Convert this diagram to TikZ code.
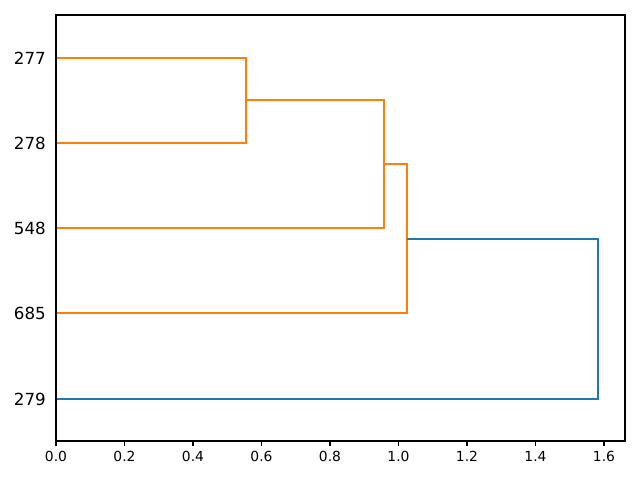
\documentclass[tikz,border=0pt]{standalone}
\usepackage{fontspec}
\setmainfont{DejaVu Sans}
\definecolor{mplorange}{HTML}{FF7F0E}
\definecolor{mplblue}{HTML}{1F77B4}
\begin{document}
\begin{tikzpicture}[x=0.75pt,y=-0.75pt,
  link/.style={line width=1.5pt},
  spine/.style={line width=0.83pt, line cap=rect},
  ylab/.style={anchor=east, inner sep=0pt, font=\fontsize{12.5}{14}\selectfont},
  xlab/.style={anchor=north, inner sep=0pt, font=\fontsize{10.4}{12}\selectfont}]
\useasboundingbox (0,0) rectangle (640,480);
% leaves
\coordinate (l277) at (56,58);
\coordinate (l278) at (56,143);
\coordinate (l548) at (56,228);
\coordinate (l685) at (56,313);
\coordinate (l279) at (56,399);
% links
\coordinate (a1) at (246,58);
\coordinate (a2) at (246,143);
\coordinate (b1) at (384,100);
\coordinate (b2) at (384,228);
\coordinate (c1) at (407,164);
\coordinate (c2) at (407,313);
\coordinate (d1) at (598,239);
\coordinate (d2) at (598,399);
\draw[link, mplorange] (l277) -- (a1) -- (a2) -- (l278);
\draw[link, mplorange] (246,100) -- (b1) -- (b2) -- (l548);
\draw[link, mplorange] (384,164) -- (c1) -- (c2) -- (l685);
\draw[link, mplblue] (407,239) -- (d1) -- (d2) -- (l279);
% axes
\draw[spine] (56,15) rectangle (625,441);
% y labels
\node[ylab] (t277) at (46,58) {277};
\node[ylab] (t278) at (46,143) {278};
\node[ylab] (t548) at (46,228) {548};
\node[ylab] (t685) at (46,313) {685};
\node[ylab] (t279) at (46,399) {279};
% x ticks
\foreach \v [count=\i from 0] in {0.0,0.2,0.4,0.6,0.8,1.0,1.2,1.4,1.6} {
  \pgfmathsetmacro{\xx}{56+\i*68.5}
  \draw[line width=0.83pt] (\xx,441) -- (\xx,446);
  \node[xlab] (x\i) at (\xx,451) {\v};
}
\end{tikzpicture}
\end{document}
